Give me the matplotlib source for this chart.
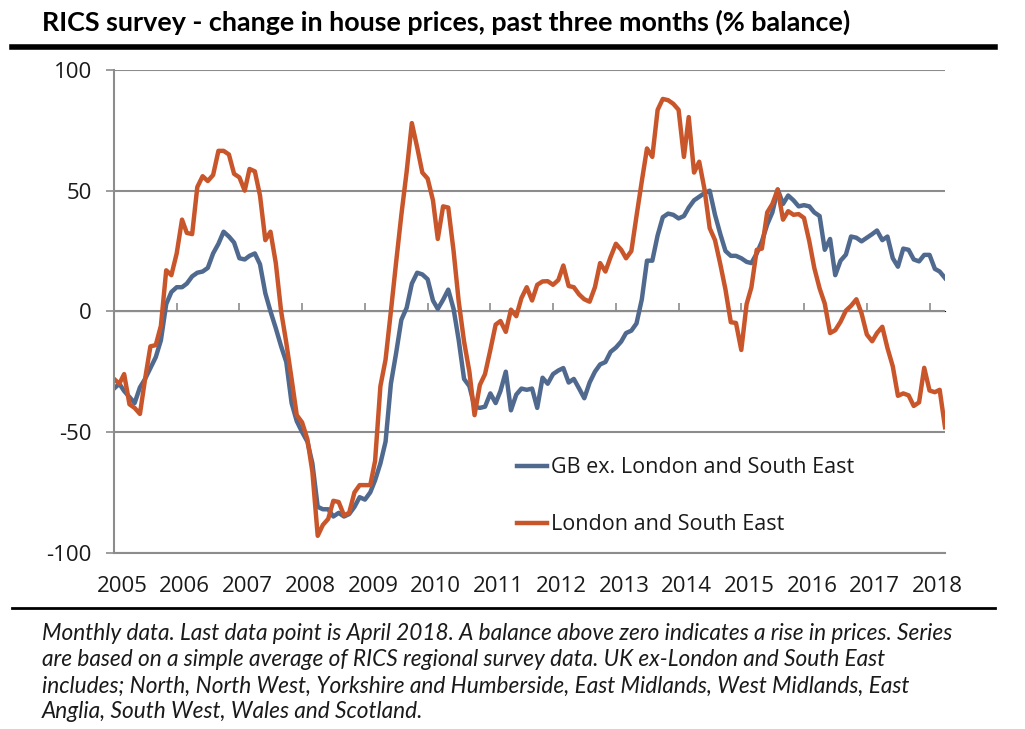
import numpy as np
import pandas as pd
import matplotlib
matplotlib.use("Agg")
import matplotlib.pyplot as plt
from matplotlib.lines import Line2D
from matplotlib.transforms import ScaledTranslation

# monthly balances, Jan 2005 - Apr 2018
gb_ex = [-32, -30, -33, -35.5, -38, -31.5, -28, -23.5, -19, -12, 3, 8,
         10, 10, 11.5, 14.5, 16, 16.5, 18, 24, 28, 33, 31, 28.5,
         22, 21.5, 23, 24, 19.5, 7.5, 0, -7, -14.5, -21, -38, -45.5,
         -50, -54, -63, -81, -82, -82, -85, -83.5, -85, -84, -81, -77,
         -78, -75, -70, -63, -54, -30, -17.5, -3.5, 1.5, 11.5, 16, 15.3,
         13.3, 4.5, 1, 4.8, 9, 1, -12, -28, -31, -39.5, -40, -39.5,
         -34, -38, -33, -25, -41, -34.5, -32, -32.5, -32, -40, -27.5, -30,
         -26, -24.5, -23.5, -29.5, -28, -32, -36, -29.5, -25, -22, -21, -16.8,
         -15, -12.5, -9, -8, -5, 5, 21, 21, 31.5, 39, 40.5, 40,
         38.5, 39.5, 43, 46, 47.5, 49, 50, 40, 32, 25, 23, 23,
         22, 20.5, 20, 24, 29, 36, 41, 50.5, 44.5, 48, 46, 43.5,
         44, 43.5, 41, 39.5, 25.5, 30, 15, 21, 23.5, 31, 30.5, 29,
         30.5, 32, 33.5, 29.5, 31, 22, 18.5, 26, 25.5, 21.5, 20.7, 23.4,
         23.4, 17.6, 16.5, 13.8]

london_se = [-28, -30, -26, -38.5, -40, -42.5, -28, -14.5, -14, -6, 17, 15,
             24, 38, 32.5, 32, 51.5, 56, 54, 56.5, 66.5, 66.5, 65, 57,
             55.5, 50, 59, 58, 48, 29.5, 33, 20, 0, -13, -28, -43,
             -46, -53, -66.5, -93, -88.5, -86, -78.5, -79, -84.5, -83.5, -75, -72,
             -72, -72, -62, -31, -20, 0, 20, 40, 58, 78, 68, 57.5,
             55, 46, 30, 43.5, 43, 25, 4, -12.5, -25, -43, -30.5, -26,
             -16, -5.5, -4, -8.5, 0.7, -2, 5.5, 10, 4.5, 11, 12.4, 12.5,
             11, 13, 19, 10.5, 10, 7, 5, 4, 10, 20, 16.5, 22.5,
             28, 25.5, 22, 25, 39.5, 54, 67.5, 64, 83.5, 88, 87.5, 86,
             83.5, 64, 80.5, 57.5, 62, 50.5, 34.5, 29.5, 19.5, 9, -4.5, -4.8,
             -16, 3, 10, 25.5, 26, 41, 44.5, 50.5, 38, 41.5, 40, 40.3,
             38.7, 29, 18, 9.5, 3.2, -9, -7.8, -4.3, 0.3, 2.3, 5, -0.8,
             -9.6, -12.4, -9, -6.4, -15.2, -22.8, -35, -34, -34.8, -39.2, -37.7, -23.4,
             -32.8, -33.5, -32.5, -48]

months = pd.date_range("2005-01-01", periods=len(gb_ex), freq="MS")
years = list(range(2005, 2019))
y_ticks = [-100, -50, 0, 50, 100]

title = "RICS survey - change in house prices, past three months (% balance)"
footnote = [
    "Monthly data. Last data point is April 2018. A balance above zero indicates a rise in prices. Series",
    "are based on a simple average of RICS regional survey data. UK ex-London and South East",
    "includes; North, North West, Yorkshire and Humberside, East Midlands, West Midlands, East",
    "Anglia, South West, Wales and Scotland.",
]

narrow = ["Lato", "DejaVu Sans"]
body = ["Open Sans", "DejaVu Sans"]
grey = "#8c8c8c"
blue = "#50698e"
orange = "#c9562b"
ink = "#1a1a1a"

W, H = 1025, 729
fig = plt.figure(figsize=(W / 100, H / 100), dpi=100)
ax = fig.add_axes([114 / W, 1 - 552.7 / H, (945 - 114) / W, (552.7 - 70) / H])

ax.plot(months, gb_ex, color=blue, lw=3.2, label="GB ex. London and South East",
        solid_joinstyle="round")
ax.plot(months, london_se, color=orange, lw=3.2, label="London and South East",
        solid_joinstyle="round")

ax.set_xlim(months[0], months[-1])
ax.set_ylim(-100, 100)
ax.set_yticks(y_ticks)
ax.set_yticklabels([str(v) for v in y_ticks], family=body, fontsize=16, color=ink)
ax.yaxis.grid(True, color=grey, lw=1.5)
ax.set_axisbelow(True)
ax.tick_params(axis="y", length=6, width=1.2, color=grey, pad=10)

year_pos = [pd.Timestamp(f"{y}-01-01") for y in years]
ax.set_xticks(year_pos)
ax.set_xticklabels([str(y) for y in years], family=body, fontsize=16, color=ink)
ax.tick_params(axis="x", length=0, pad=17)
shift = ScaledTranslation(8 / 100, 0, fig.dpi_scale_trans)
for lab in ax.get_xticklabels():
    lab.set_transform(lab.get_transform() + shift)

for side in ["top", "right"]:
    ax.spines[side].set_visible(False)
ax.spines["left"].set_color(grey)
ax.spines["left"].set_linewidth(1.5)
ax.spines["bottom"].set_color(grey)
ax.spines["bottom"].set_linewidth(1.5)

# zero line with yearly tick marks
sec = ax.secondary_xaxis(0.5)
sec.set_xticks(year_pos[1:])
sec.set_xticklabels([])
sec.tick_params(length=6, width=1.2, color=grey, direction="out")
sec.spines["bottom"].set_color(grey)
sec.spines["bottom"].set_linewidth(1.8)

leg = ax.legend(loc="center left", bbox_to_anchor=(0.485, 0.117), frameon=False,
                prop={"family": body, "size": 15.5}, handlelength=1.4,
                handletextpad=0.2, labelspacing=1.68, borderpad=0, borderaxespad=0)
for t in leg.get_texts():
    t.set_color(ink)

fig.text(42 / W, 1 - 22 / H, title, ha="left", va="center", fontsize=19.4,
         fontweight="bold", family=narrow)
fig.add_artist(Line2D([12 / W, 995 / W], [1 - 47 / H] * 2, lw=4, color="black",
                      transform=fig.transFigure))
fig.add_artist(Line2D([12 / W, 995 / W], [1 - 608 / H] * 2, lw=2, color="black",
                      transform=fig.transFigure))
for k, line in enumerate(footnote):
    fig.text(42 / W, 1 - (634 + 26 * k) / H, line, ha="left", va="center",
             fontsize=16.3, style="italic", family=narrow, color=ink)

fig.savefig("out.png", dpi=100)
